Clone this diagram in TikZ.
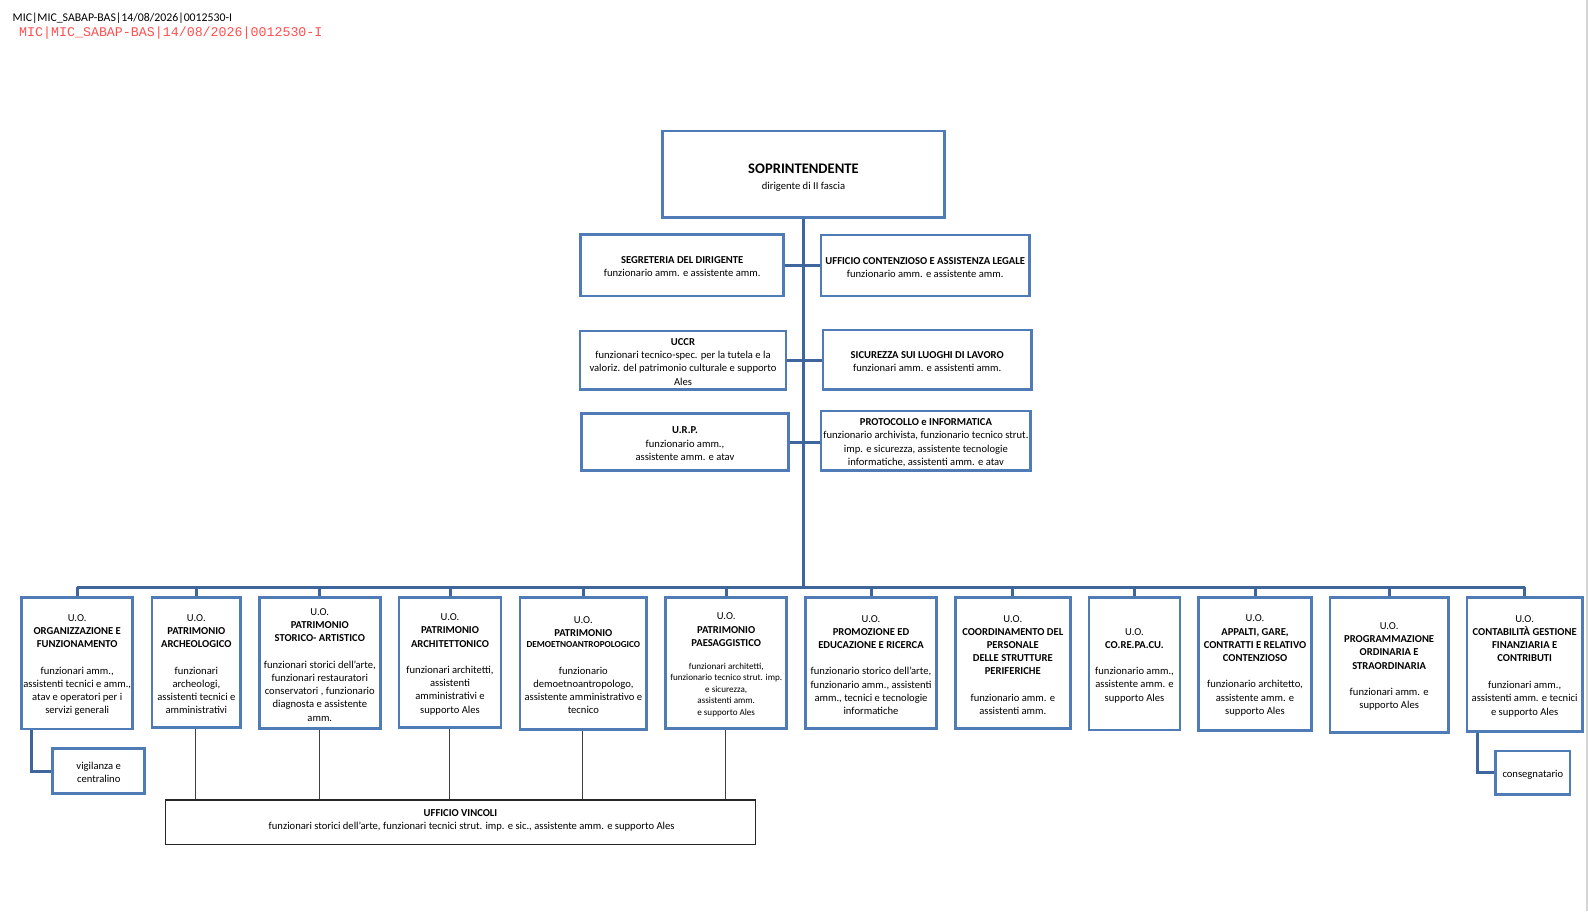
\documentclass[tikz,border=0pt]{standalone}
\usepackage{fontspec}
\setmainfont{Carlito}
\newfontfamily\monof{Liberation Mono}
\usetikzlibrary{calc}
\definecolor{boxblue}{RGB}{79,124,183}
\definecolor{lineblue}{RGB}{62,102,156}
\definecolor{redhdr}{RGB}{255,80,80}
\definecolor{edgegray}{RGB}{212,212,212}
\newcommand\smf{\fontsize{9.1}{11.5}\selectfont}
\tikzset{
  ob/.style={draw=boxblue, line width=2.8pt, fill=white, inner sep=0pt},
  vb/.style={draw=black!85, line width=1.1pt, fill=white, inner sep=0pt},
  tx/.style={align=center, inner sep=0pt, yshift=-1.7pt, font=\fontsize{10.6}{13.2}\selectfont},
  conn/.style={draw=lineblue, line width=3pt},
  trunkline/.style={draw=lineblue, line width=3.4pt},
  thinl/.style={draw=black!75, line width=1pt},
}
\begin{document}
\begin{tikzpicture}[x=1pt,y=-1pt]
\useasboundingbox (0,0) rectangle (1588,911);
\fill[white] (0,0) rectangle (1588,911);
\fill[edgegray] (1586,0) rectangle (1588,911);

% header
\node[anchor=base west, inner sep=0pt, font=\fontsize{11.8}{14}\selectfont] (hdr1) at (12.5,21) {MIC|MIC\_SABAP-BAS|14/08/2026|0012530-I};
\node[anchor=base west, inner sep=0pt, text=redhdr, font=\monof\fontsize{13.3}{15}\selectfont] (hdr2) at (19,36) {MIC|MIC\_SABAP-BAS|14/08/2026|0012530-I};

% top boxes
\node[ob, minimum width=281.6pt, minimum height=86.3pt] (sop) at (803.5,174.2) {};
\node[ob, minimum width=203pt, minimum height=61.7pt] (seg) at (682.2,265.2) {};
\node[ob, minimum width=208.3pt, minimum height=61pt] (leg) at (925.2,265.5) {};
\node[ob, minimum width=206pt, minimum height=58.3pt] (uccr) at (683,360.2) {};
\node[ob, minimum width=208.3pt, minimum height=59.3pt] (sic) at (927.2,359.7) {};
\node[ob, minimum width=206.6pt, minimum height=57.4pt] (urp) at (685,442) {};
\node[ob, minimum width=209.7pt, minimum height=59.7pt] (prot) at (925.9,440.9) {};

% bottom boxes
\node[ob, minimum width=111pt, minimum height=131.5pt] (b1) at (77.2,663.25) {};
\node[ob, minimum width=88.7pt, minimum height=130.2pt] (b2) at (196.35,662.6) {};
\node[ob, minimum width=121pt, minimum height=131.2pt] (b3) at (319.8,663.1) {};
\node[ob, minimum width=102pt, minimum height=130.2pt] (b4) at (450,662.6) {};
\node[ob, minimum width=126.7pt, minimum height=131.8pt] (b5) at (583.35,663.4) {};
\node[ob, minimum width=121pt, minimum height=131.2pt] (b6) at (726.2,663.1) {};
\node[ob, minimum width=130.6pt, minimum height=131.2pt] (b7) at (871,663.1) {};
\node[ob, minimum width=115pt, minimum height=131.2pt] (b8) at (1012.8,663.1) {};
\node[ob, minimum width=91pt, minimum height=132.5pt] (b9) at (1134.5,663.75) {};
\node[ob, minimum width=112.6pt, minimum height=132.8pt] (b10) at (1255,663.9) {};
\node[ob, minimum width=118.3pt, minimum height=134.8pt] (b11) at (1389.15,664.9) {};
\node[ob, minimum width=115.3pt, minimum height=134.2pt] (b12) at (1524.65,664.6) {};
\node[ob, minimum width=92pt, minimum height=45.4pt] (vig) at (98.7,771) {};
\node[ob, minimum width=74.3pt, minimum height=43.3pt] (cons) at (1532.85,772.65) {};
\node[vb, minimum width=589.6pt, minimum height=44.3pt] (vinc) at (460.5,822.15) {};

% connectors
\coordinate (busL) at (77.2,587.3);
\coordinate (busR) at (1524.65,587.3);
\draw[trunkline] (sop.south) -- (sop.south |- busL);
\draw[conn] (busL) -- (busR);
\foreach \b in {b1,b2,b3,b4,b5,b6,b7,b8,b9,b10,b11,b12}{
  \draw[conn] (\b.north) -- (\b.north |- busL);
}
\draw[conn] (seg.east) -- (seg.east -| leg.west);
\draw[conn] (uccr.east) -- (uccr.east -| sic.west);
\draw[conn] (urp.east) -- (urp.east -| prot.west);
\draw[conn] ([xshift=11.6pt]b1.south west) |- (vig.west);
\draw[conn] ([xshift=12.3pt]b12.south west) |- (cons.west);
\foreach \b in {b2,b3,b4,b5,b6}{
  \draw[thinl] ([xshift=-0.5pt]\b.south) -- ([xshift=-0.5pt]\b.south |- vinc.north);
}

% texts
\node[tx, yshift=-1.5pt] (sopt) at (sop.center) {{\fontsize{14.6}{16}\selectfont\bfseries SOPRINTENDENTE}\\[2.4pt] dirigente di II fascia};
\node[tx] (segt) at (seg.center) {\textbf{SEGRETERIA DEL DIRIGENTE}\\ funzionario amm. e assistente amm.};
\node[tx] (legt) at (leg.center) {\textbf{UFFICIO CONTENZIOSO E ASSISTENZA LEGALE}\\ funzionario amm. e assistente amm.};
\node[tx] (uccrt) at (uccr.center) {\textbf{UCCR}\\ funzionari tecnico-spec. per la tutela e la\\ valoriz. del patrimonio culturale e supporto\\ Ales};
\node[tx] (sict) at (sic.center) {\textbf{SICUREZZA SUI LUOGHI DI LAVORO}\\ funzionari amm. e assistenti amm.};
\node[tx] (urpt) at (urp.center) {\textbf{U.R.P.}\\ funzionario amm.,\\ assistente amm. e atav};
\node[tx] (prott) at (prot.center) {\textbf{PROTOCOLLO e INFORMATICA}\\ funzionario archivista, funzionario tecnico strut.\\ imp. e sicurezza, assistente tecnologie\\ informatiche, assistenti amm. e atav};

\node[tx] (b1t) at (b1.center) {U.O.\\ \textbf{ORGANIZZAZIONE E}\\ \textbf{FUNZIONAMENTO}\\[13.2pt] funzionari amm.,\\ assistenti tecnici e amm.,\\ atav e operatori per i\\ servizi generali};
\node[tx] (b2t) at (b2.center) {U.O.\\ \textbf{PATRIMONIO}\\ \textbf{ARCHEOLOGICO}\\[13.2pt] funzionari\\ archeologi,\\ assistenti tecnici e\\ amministrativi};
\node[tx] (b3t) at (b3.center) {U.O.\\ \textbf{PATRIMONIO}\\ \textbf{STORICO- ARTISTICO}\\[13.2pt] funzionari storici dell'arte,\\ funzionari restauratori\\ conservatori , funzionario\\ diagnosta e assistente\\ amm.};
\node[tx] (b4t) at (b4.center) {U.O.\\ \textbf{PATRIMONIO}\\ \textbf{ARCHITETTONICO}\\[13.2pt] funzionari architetti,\\ assistenti\\ amministrativi e\\ supporto Ales};
\node[tx] (b5t) at (b5.center) {U.O.\\ \textbf{PATRIMONIO}\\[-1.8pt] {\fontsize{9.2}{11}\selectfont\bfseries DEMOETNOANTROPOLOGICO}\\[13.2pt] funzionario\\ demoetnoantropologo,\\ assistente amministrativo e\\ tecnico};
\node[tx] (b6t) at (b6.center) {U.O.\\ \textbf{PATRIMONIO}\\ \textbf{PAESAGGISTICO}\\[10pt] {\smf funzionari architetti,}\\[-1.8pt] {\smf funzionario tecnico strut. imp.}\\[-1.8pt] {\smf e sicurezza,}\\[-1.8pt] {\smf assistenti amm.}\\[-1.8pt] {\smf e supporto Ales}};
\node[tx] (b7t) at (b7.center) {U.O.\\ \textbf{PROMOZIONE ED}\\ \textbf{EDUCAZIONE E RICERCA}\\[13.2pt] funzionario storico dell'arte,\\ funzionario amm., assistenti\\ amm., tecnici e tecnologie\\ informatiche};
\node[tx] (b8t) at (b8.center) {U.O.\\ \textbf{COORDINAMENTO DEL}\\ \textbf{PERSONALE}\\ \textbf{DELLE STRUTTURE}\\ \textbf{PERIFERICHE}\\[13.2pt] funzionario amm. e\\ assistenti amm.};
\node[tx] (b9t) at (b9.center) {U.O.\\ \textbf{CO.RE.PA.CU.}\\[13.2pt] funzionario amm.,\\ assistente amm. e\\ supporto Ales};
\node[tx] (b10t) at (b10.center) {U.O.\\ \textbf{APPALTI, GARE,}\\ \textbf{CONTRATTI E RELATIVO}\\ \textbf{CONTENZIOSO}\\[13.2pt] funzionario architetto,\\ assistente amm. e\\ supporto Ales};
\node[tx] (b11t) at (b11.center) {U.O.\\ \textbf{PROGRAMMAZIONE}\\ \textbf{ORDINARIA E}\\ \textbf{STRAORDINARIA}\\[13.2pt] funzionari amm. e\\ supporto Ales};
\node[tx] (b12t) at (b12.center) {U.O.\\ \textbf{CONTABILITÀ GESTIONE}\\ \textbf{FINANZIARIA E}\\ \textbf{CONTRIBUTI}\\[13.2pt] funzionari amm.,\\ assistenti amm. e tecnici\\[0.8pt] e supporto Ales};
\node[tx] (vigt) at (vig.center) {vigilanza e\\ centralino};
\node[tx] (const) at (cons.center) {consegnatario};
\node[tx, yshift=3.5pt] (vinct) at (vinc.center) {\textbf{UFFICIO VINCOLI}\\[0.3pt] \hspace*{22.3pt}funzionari storici dell’arte, funzionari tecnici strut. imp. e sic., assistente amm. e supporto Ales};
\end{tikzpicture}
\end{document}
